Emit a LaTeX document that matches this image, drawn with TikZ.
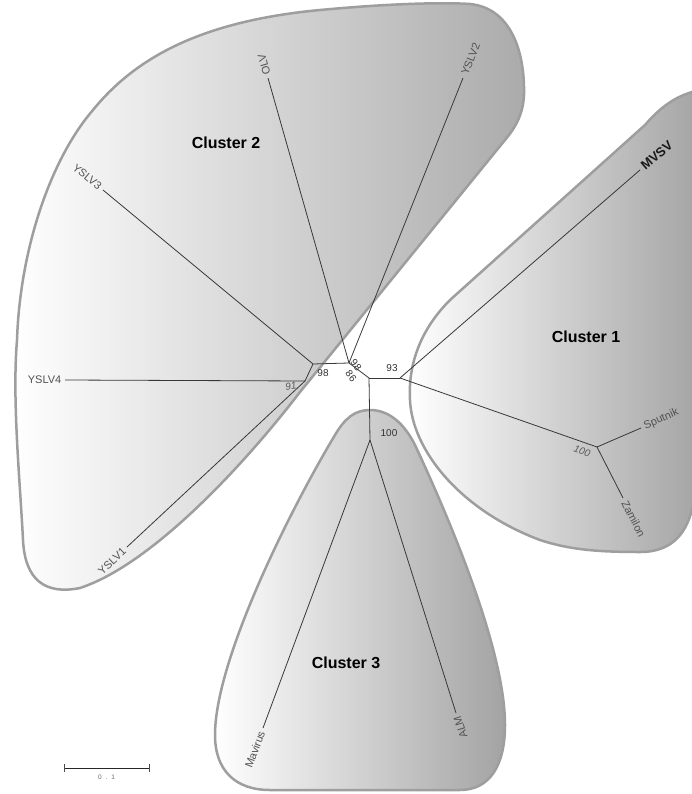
\documentclass[tikz,border=0pt]{standalone}
\usepackage{fontspec}
\setmainfont{Liberation Sans}
\newfontfamily\spacedfont[LetterSpace=60]{Liberation Sans}
\begin{document}
\begin{tikzpicture}[x=1pt,y=-1pt,
  br/.style={draw=black!78, line width=0.8pt},
  leaf/.style={font=\fontsize{11}{13}\selectfont, text=black!68, inner sep=3.5pt},
  boot/.style={font=\fontsize{10}{12}\selectfont, text=black!80, inner sep=0pt},
  bootit/.style={boot, font=\itshape\fontsize{10}{12}\selectfont, text=black!65},
  clab/.style={font=\bfseries\fontsize{16}{19}\selectfont, text=black},
  clus/.style={draw=black!38, line width=2.5pt}]
\useasboundingbox (0,0) rectangle (692,794);
\clip (0,0) rectangle (692,794);
\fill[white] (0,0) rectangle (692,794);

% Cluster 2
\path[clus, left color=white, right color=black!33]
  (93,110) .. controls (140,52) and (210,22) .. (310,11)
  .. controls (380,4) and (440,2) .. (470,4)
  .. controls (510,8) and (525,50) .. (524,95)
  .. controls (523,115) and (515,128) .. (505,140)
  -- (300,392)
  .. controls (240,470) and (150,565) .. (80,588)
  .. controls (45,595) and (25,580) .. (23,540)
  .. controls (20,480) and (12,400) .. (17,340)
  .. controls (20,250) and (50,160) .. (93,110) -- cycle;

% Cluster 1
\path[clus, left color=white, right color=black!38]
  (720,85) -- (692,92)
  .. controls (672,98) and (658,110) .. (645,125)
  -- (450,300)
  .. controls (420,330) and (408,365) .. (410,400)
  .. controls (412,450) and (460,510) .. (540,540)
  .. controls (570,550) and (600,552) .. (640,552)
  .. controls (675,552) and (690,530) .. (695,495)
  -- (720,495) -- cycle;

% Cluster 3
\path[clus, left color=white, right color=black!36]
  (370,410) .. controls (390,410) and (405,425) .. (415,445)
  .. controls (450,520) and (505,650) .. (505,725)
  .. controls (505,765) and (490,790) .. (460,790)
  -- (270,790)
  .. controls (235,790) and (215,770) .. (215,735)
  .. controls (215,660) and (290,510) .. (335,435)
  .. controls (345,418) and (355,410) .. (370,410) -- cycle;

% internal nodes
\coordinate (n91) at (305,381);
\coordinate (n98) at (313,364);
\coordinate (noy) at (349,363);
\coordinate (nc) at (369,378);
\coordinate (n93) at (400,378);
\coordinate (nc3) at (370,440);
\coordinate (nc1) at (597,447);
% tips
\coordinate (tY4) at (65,380);
\coordinate (tY1) at (127,547);
\coordinate (tY3) at (103,190);
\coordinate (tOLV) at (268,78);
\coordinate (tY2) at (463,78);
\coordinate (tMV) at (640,170);
\coordinate (tSp) at (641,428);
\coordinate (tZa) at (623,498);
\coordinate (tMa) at (263,728);
\coordinate (tAL) at (456,713);

% branches
\draw[br] (tY4) -- (n91);
\draw[br] (tY1) -- (n91);
\draw[br] (n91) -- (n98);
\draw[br] (tY3) -- (n98);
\draw[br] (n98) -- (noy);
\draw[br] (tOLV) -- (noy);
\draw[br] (tY2) -- (noy);
\draw[br] (noy) -- (nc);
\draw[br] (nc) -- (n93);
\draw[br] (nc) -- (nc3);
\draw[br] (nc3) -- (tMa);
\draw[br] (nc3) -- (tAL);
\draw[br] (n93) -- (tMV);
\draw[br] (n93) -- (nc1);
\draw[br] (nc1) -- (tSp);
\draw[br] (nc1) -- (tZa);

% leaf labels
\node[leaf, anchor=east] (lY4) at (tY4) {YSLV4};
\node[leaf, anchor=east, rotate=43] (lY1) at (tY1) {YSLV1};
\node[leaf, anchor=east, rotate=-39.6] (lY3) at (tY3) {YSLV3};
\node[leaf, anchor=west, rotate=105.9] (lOLV) at (tOLV) {OLV};
\node[leaf, anchor=west, rotate=68.2] (lY2) at (tY2) {YSLV2};
\node[leaf, anchor=west, rotate=40.9, font=\bfseries\fontsize{13}{15}\selectfont, text=black!90] (lMV) at (tMV) {MVSV};
\node[leaf, anchor=west, rotate=23.4] (lSp) at (tSp) {Sputnik};
\node[leaf, anchor=west, rotate=-63] (lZa) at (tZa) {Zamilon};
\node[leaf, anchor=east, rotate=69.6] (lMa) at (tMa) {Mavirus};
\node[leaf, anchor=east, rotate=107.5] (lAL) at (tAL) {ALM};

% bootstrap values
\node[bootit, rotate=8] (b91) at (291,386) {91};
\node[boot] (b98) at (323,373) {98};
\node[boot, rotate=-52] (b98b) at (356,365) {98};
\node[boot, rotate=-52] (b86) at (351,376) {86};
\node[boot] (b93) at (392,368) {93};
\node[boot] (b100c) at (389,433) {100};
\node[bootit, rotate=-19] (b100) at (582,451) {100};

% cluster labels
\node[clab] (c1) at (586,337) {Cluster 1};
\node[clab] (c2) at (226,143) {Cluster 2};
\node[clab] (c3) at (346,663) {Cluster 3};

% scale bar
\coordinate (sb1) at (64,768);
\coordinate (sb2) at (149,768);
\draw[line width=1pt, black!85] (sb1) -- (sb2);
\draw[line width=0.8pt, black!70] ([yshift=4pt]sb1) -- ([yshift=-4pt]sb1);
\draw[line width=0.8pt, black!70] ([yshift=4pt]sb2) -- ([yshift=-4pt]sb2);
\node[font=\spacedfont\fontsize{6.5}{8}\selectfont, text=black!60] (sbl) at (106.5,777.5) {0.1};
\end{tikzpicture}
\end{document}
